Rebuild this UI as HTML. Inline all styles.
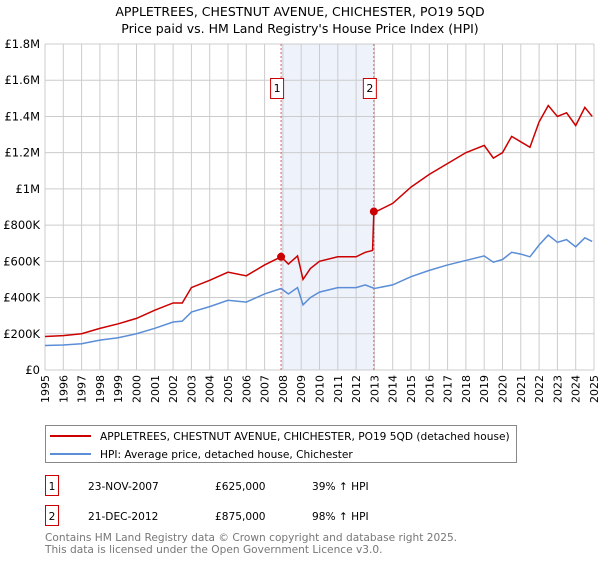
<!DOCTYPE html>
<html><head><meta charset="utf-8"><style>
body{margin:0;background:#fff;font-family:"DejaVu Sans","Liberation Sans",sans-serif;}
svg text{font-family:"DejaVu Sans","Liberation Sans",sans-serif;}
</style></head><body>
<svg id="c" width="600" height="560" xmlns="http://www.w3.org/2000/svg">
<text x="300" y="16" text-anchor="middle" font-size="12.5">APPLETREES, CHESTNUT AVENUE, CHICHESTER, PO19 5QD</text>
<text x="300" y="33" text-anchor="middle" font-size="12.5">Price paid vs. HM Land Registry's House Price Index (HPI)</text>
<g id="plot"></g>
<g>
<rect x="45.5" y="425.5" width="471" height="37" fill="#fff" stroke="#888"/>
<line x1="50" y1="436" x2="91" y2="436" stroke="#cc0000" stroke-width="2"/>
<text x="100" y="440" font-size="10.6">APPLETREES, CHESTNUT AVENUE, CHICHESTER, PO19 5QD (detached house)</text>
<line x1="50" y1="454" x2="91" y2="454" stroke="#5b8ed6" stroke-width="2"/>
<text x="100" y="458" font-size="10.6">HPI: Average price, detached house, Chichester</text>
</g>
<g>
<rect x="45.5" y="475.5" width="13" height="20" fill="#fff" stroke="#cc0000"/>
<text x="52" y="490" text-anchor="middle" font-size="10.6">1</text>
<text x="88" y="490" font-size="10.6">23-NOV-2007</text>
<text x="215" y="490" font-size="10.6">£625,000</text>
<text x="312" y="490" font-size="10.6">39% ↑ HPI</text>
<rect x="45.5" y="505.5" width="13" height="20" fill="#fff" stroke="#cc0000"/>
<text x="52" y="520" text-anchor="middle" font-size="10.6">2</text>
<text x="88" y="520" font-size="10.6">21-DEC-2012</text>
<text x="215" y="520" font-size="10.6">£875,000</text>
<text x="312" y="520" font-size="10.6">98% ↑ HPI</text>
</g>
<text x="45" y="541" font-size="10.6" fill="#777">Contains HM Land Registry data © Crown copyright and database right 2025.</text>
<text x="45" y="553" font-size="10.6" fill="#777">This data is licensed under the Open Government Licence v3.0.</text>
</svg>
<script>
const yTicks=[0,200000,400000,600000,800000,1000000,1200000,1400000,1600000,1800000];
const yTickLabels=["£0","£200K","£400K","£600K","£800K","£1M","£1.2M","£1.4M","£1.6M","£1.8M"];
const xYears=[1995,1996,1997,1998,1999,2000,2001,2002,2003,2004,2005,2006,2007,2008,2009,2010,2011,2012,2013,2014,2015,2016,2017,2018,2019,2020,2021,2022,2023,2024,2025];
const hpiDates=[1995,1996,1997,1998,1999,2000,2001,2002,2002.5,2003,2004,2005,2006,2007,2007.9,2008.3,2008.8,2009.1,2009.5,2010,2011,2012,2012.5,2013,2014,2015,2016,2017,2018,2019,2019.5,2020,2020.5,2021,2021.5,2022,2022.5,2023,2023.5,2024,2024.5,2024.9];
const hpiValues=[135000,138000,145000,165000,178000,200000,230000,265000,270000,320000,350000,385000,375000,420000,450000,420000,455000,360000,400000,430000,455000,455000,470000,450000,470000,515000,550000,580000,605000,630000,595000,610000,650000,640000,625000,690000,745000,705000,720000,680000,730000,710000];
const priceDates=[1995,1996,1997,1998,1999,2000,2001,2002,2002.5,2003,2004,2005,2006,2007,2007.9,2008.3,2008.8,2009.1,2009.5,2010,2011,2012,2012.5,2012.9,2012.97,2013.2,2014,2015,2016,2017,2018,2019,2019.5,2020,2020.5,2021,2021.5,2022,2022.5,2023,2023.5,2024,2024.5,2024.9];
const priceValues=[185000,190000,200000,230000,255000,285000,330000,370000,370000,455000,495000,540000,520000,580000,625000,585000,630000,500000,560000,600000,625000,625000,650000,660000,875000,880000,920000,1010000,1080000,1140000,1200000,1240000,1170000,1200000,1290000,1260000,1230000,1370000,1460000,1400000,1420000,1350000,1450000,1400000];
const saleDates=[2007.9,2012.97];
const saleValues=[625000,875000];
const saleLabels=["1","2"];
const X0=45,X1=594,Y0=370,Y1=44;
const xs=t=>X0+(t-1995)/30*(X1-X0);
const ys=v=>Y0-v/1800000*(Y0-Y1);
const NS="http://www.w3.org/2000/svg";
const g=document.getElementById('plot');
function mk(tag,attrs,parent){const e=document.createElementNS(NS,tag);for(const k in attrs)e.setAttribute(k,attrs[k]);(parent||g).appendChild(e);return e;}
const shade=mk('rect',{x:xs(saleDates[0]),y:Y1,width:xs(saleDates[1])-xs(saleDates[0]),height:Y0-Y1,fill:'#eef2fb'});


xYears.forEach(yr=>{const l=mk('line',{x1:xs(yr),x2:xs(yr),y1:Y1,y2:Y0,stroke:'#ccc'});


const t=mk('text',{x:0,y:0,'font-size':11,'text-anchor':'end',transform:`translate(${xs(yr)+4},${Y0+5}) rotate(-90)`});t.textContent=yr;

});
yTicks.forEach((v,i)=>{const l=mk('line',{x1:X0,x2:X1,y1:ys(v),y2:ys(v),stroke:'#ccc'});


const t=mk('text',{x:X0-5,y:ys(v)+4,'font-size':11.5,'text-anchor':'end'});t.textContent=yTickLabels[i];

});
saleDates.forEach((d,i)=>{const l=mk('line',{x1:xs(d),x2:xs(d),y1:Y1,y2:Y0,stroke:'#e06060','stroke-dasharray':'2,2'});


const b=mk('rect',{x:xs(d)-10.5,y:78.5,width:13,height:20,fill:'#fff',stroke:'#cc0000'});


const t=mk('text',{x:xs(d)-4,y:92,'font-size':11,'text-anchor':'middle'});t.textContent=saleLabels[i];

});
const hp=mk('polyline',{points:hpiDates.map((d,i)=>xs(d)+','+ys(hpiValues[i])).join(' '),fill:'none',stroke:'#5b8ed6','stroke-width':1.5});


const pp=mk('polyline',{points:priceDates.map((d,i)=>xs(d)+','+ys(priceValues[i])).join(' '),fill:'none',stroke:'#cc0000','stroke-width':1.5});


saleDates.forEach((d,i)=>{const c=mk('circle',{cx:xs(d),cy:ys(saleValues[i]),r:4,fill:'#cc0000'});

});
</script>
</body></html>
